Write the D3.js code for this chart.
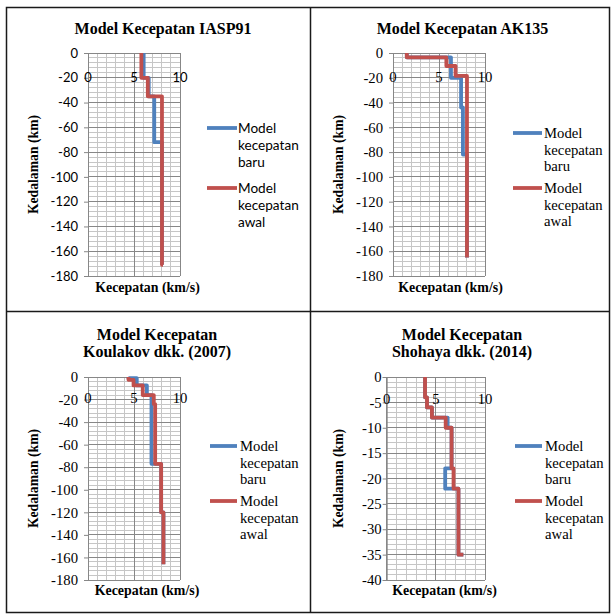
<!DOCTYPE html>
<html>
<head>
<meta charset="utf-8">
<script src="https://cdn.jsdelivr.net/npm/d3@7"></script>
<style>
  html, body { margin: 0; padding: 0; background: #fff; }
  svg { display: block; }
  .serif { font-family: "Times New Roman", "Liberation Serif", "DejaVu Serif", serif; }
  .sans { font-family: Lato, "Open Sans", sans-serif; }
</style>
</head>
<body>
<svg id="fig" width="611" height="614"></svg>
<script>
// Velocity models: [velocity (km/s), depth (km, negative downward)]
const iasp91Baru = [[6.05, 0], [6.05, -20], [6.6, -20], [6.6, -35], [7.2, -35], [7.2, -72], [8.04, -72], [8.04, -171]];
const iasp91Awal = [[5.8, 0], [5.8, -20], [6.5, -20], [6.5, -35], [8.04, -35], [8.04, -171], [8.15, -171]];

const ak135Baru = [[1.5, 0], [1.5, -3.5], [6.3, -3.5], [6.3, -20], [7.4, -20], [7.4, -44], [7.6, -44], [7.6, -82], [8.04, -82], [8.04, -165]];
const ak135Awal = [[1.5, 0], [1.5, -3.5], [5.8, -3.5], [5.8, -10.5], [6.8, -10.5], [6.8, -18.5], [8.04, -18.5], [8.04, -165]];

const koulakovBaru = [[4.4, 0], [4.4, -1], [5.3, -1], [5.3, -7.5], [6.4, -7.5], [6.4, -16], [6.9, -16], [6.9, -77], [7.95, -77], [7.95, -120], [8.2, -120], [8.2, -166]];
const koulakovAwal = [[4.4, 0], [4.4, -2.5], [4.95, -2.5], [4.95, -7.5], [5.95, -7.5], [5.95, -16], [7.15, -16], [7.15, -24], [7.3, -24], [7.3, -77], [7.95, -77], [7.95, -120], [8.2, -120], [8.2, -166]];

const shohayaBaru = [[3.9, 0], [3.9, -4], [4.1, -4], [4.1, -6], [4.6, -6], [4.6, -8], [6.2, -8], [6.2, -10], [6.6, -10], [6.6, -18], [5.95, -18], [5.95, -22], [7.3, -22], [7.3, -35], [7.8, -35]];
const shohayaAwal = [[3.9, 0], [3.9, -4], [4.1, -4], [4.1, -6], [4.6, -6], [4.6, -8], [6.0, -8], [6.0, -10], [6.6, -10], [6.6, -18], [6.8, -18], [6.8, -22], [7.3, -22], [7.3, -35], [7.8, -35]];

// Axis ticks
const xTicks = [0, 5, 10];
const yTicksDeep = [0, -20, -40, -60, -80, -100, -120, -140, -160, -180];
const yTicksShallow = [0, -5, -10, -15, -20, -25, -30, -35, -40];

const seriesNames = ["Model kecepatan baru", "Model kecepatan awal"];
const seriesColors = ["#4F81BD", "#C0504D"];

const svg = d3.select("#fig");

// Table frame
const frame = svg.append("g").attr("stroke", "#1a1a1a").attr("stroke-width", 1.5).attr("fill", "none");
frame.append("rect").attr("x", 6.5).attr("y", 7.5).attr("width", 603).attr("height", 605);
frame.append("line").attr("x1", 310.5).attr("x2", 310.5).attr("y1", 7.5).attr("y2", 612.5);
frame.append("line").attr("x1", 6.5).attr("x2", 609.5).attr("y1", 311.5).attr("y2", 311.5);

const panels = [
  { title: ["Model Kecepatan IASP91"], titleX: 163, titleY: 34,
    plot: { x0: 88, x1: 180, y0: 53, y1: 276 }, yDomain: [-180, 0], yTicks: yTicksDeep, yMinor: 4,
    tickPad: 6, xLabelY: 77, yTitleX: 33, xTitleX: 147.5, xTitleY: 292,
    font: "sans", tickSize: 13, legendSize: 13.6,
    legend: { x0: 207, x1: 237, tx: 238, rows: [128, 188], lh: 17 },
    data: [iasp91Baru, iasp91Awal] },
  { title: ["Model Kecepatan AK135"], titleX: 462.5, titleY: 34,
    plot: { x0: 393, x1: 485, y0: 53, y1: 276 }, yDomain: [-180, 0], yTicks: yTicksDeep, yMinor: 4,
    tickPad: 6, xLabelY: 77, yTitleX: 338, xTitleX: 450.5, xTitleY: 292,
    font: "serif", tickSize: 14.7, legendSize: 14.7,
    legend: { x0: 513, x1: 542, tx: 544, rows: [133, 188], lh: 16.5 },
    data: [ak135Baru, ak135Awal] },
  { title: ["Model Kecepatan", "Koulakov dkk. (2007)"], titleX: 157, titleY: 340,
    plot: { x0: 88, x1: 180, y0: 377, y1: 580 }, yDomain: [-180, 0], yTicks: yTicksDeep, yMinor: 4,
    tickPad: 6, xLabelY: 398, yTitleX: 33, xTitleX: 147, xTitleY: 595,
    font: "serif", tickSize: 14.7, legendSize: 14.7,
    legend: { x0: 210, x1: 237, tx: 240, rows: [446, 501], lh: 16.5 },
    data: [koulakovBaru, koulakovAwal] },
  { title: ["Model Kecepatan", "Shohaya dkk. (2014)"], titleX: 462, titleY: 340,
    plot: { x0: 386.7, x1: 485, y0: 377, y1: 580 }, yDomain: [-40, 0], yTicks: yTicksShallow, yMinor: 1,
    tickPad: 1, xLabelY: 398.5, yTitleX: 338, xTitleX: 444.5, xTitleY: 595,
    font: "serif", tickSize: 14.7, legendSize: 14.7,
    legend: { x0: 515, x1: 542, tx: 545, rows: [446, 501], lh: 16.5 },
    data: [shohayaBaru, shohayaAwal] }
];

panels.forEach(p => {
  const g = svg.append("g");
  const x = d3.scaleLinear().domain([0, 10]).range([p.plot.x0, p.plot.x1]);
  const y = d3.scaleLinear().domain(p.yDomain).range([p.plot.y1, p.plot.y0]);

  // Title
  const t = g.append("text")
    .attr("class", "serif")
    .attr("text-anchor", "middle")
    .style("font-weight", "bold").style("font-size", "16px")
    .attr("fill", "#000");
  p.title.forEach((line, i) => {
    t.append("tspan").attr("x", p.titleX).attr("y", p.titleY + i * 16.5).text(line);
  });

  // Minor gridlines
  const minorX = d3.range(0, 10.001, 1);
  const minorY = d3.range(p.yDomain[0], 0.001, p.yMinor);
  const grid = g.append("g").attr("shape-rendering", "crispEdges");
  grid.selectAll(".mx").data(minorX).join("line")
    .attr("x1", d => x(d)).attr("x2", d => x(d))
    .attr("y1", p.plot.y0).attr("y2", p.plot.y1)
    .attr("stroke", "#c6c6c6").attr("stroke-width", 1);
  grid.selectAll(".my").data(minorY).join("line")
    .attr("x1", p.plot.x0).attr("x2", p.plot.x1)
    .attr("y1", d => y(d)).attr("y2", d => y(d))
    .attr("stroke", "#c6c6c6").attr("stroke-width", 1);
  // Major gridlines
  grid.selectAll(".Mx").data(xTicks).join("line")
    .attr("x1", d => x(d)).attr("x2", d => x(d))
    .attr("y1", p.plot.y0).attr("y2", p.plot.y1)
    .attr("stroke", "#878787").attr("stroke-width", 1);
  grid.selectAll(".My").data(p.yTicks).join("line")
    .attr("x1", p.plot.x0).attr("x2", p.plot.x1)
    .attr("y1", d => y(d)).attr("y2", d => y(d))
    .attr("stroke", "#878787").attr("stroke-width", 1);

  // Vertical axis with outward ticks
  const yAxis = d3.axisLeft(y).tickValues(p.yTicks).tickSize(4).tickPadding(p.tickPad).tickFormat(d3.format("d"));
  const ya = g.append("g").attr("transform", `translate(${p.plot.x0},0)`).call(yAxis);
  ya.attr("font-family", null).attr("font-size", null);
  ya.select(".domain").attr("stroke", "#878787");
  ya.selectAll(".tick line").attr("stroke", "#878787");
  ya.selectAll(".tick text")
    .attr("class", p.font).style("font-size", p.tickSize + "px").attr("fill", "#000")
    .text(d => d === 0 ? "0" : "-" + Math.abs(d));

  // Horizontal axis labels (drawn inside the plot, below the zero line)
  g.append("g").selectAll("text").data(xTicks).join("text")
    .attr("class", p.font)
    .attr("x", d => x(d)).attr("y", p.xLabelY)
    .attr("text-anchor", "middle").attr("dominant-baseline", "central")
    .style("font-size", p.tickSize + "px").attr("fill", "#000")
    .text(d => d);

  // Axis titles
  g.append("text")
    .attr("class", "serif")
    .attr("transform", `translate(${p.yTitleX},${(p.plot.y0 + p.plot.y1) / 2}) rotate(-90)`)
    .attr("text-anchor", "middle").attr("dominant-baseline", "central")
    .style("font-weight", "bold").style("font-size", "13.7px")
    .text("Kedalaman (km)");
  g.append("text")
    .attr("class", "serif")
    .attr("x", p.xTitleX).attr("y", p.xTitleY)
    .attr("text-anchor", "middle")
    .style("font-weight", "bold").style("font-size", "13.9px")
    .text("Kecepatan (km/s)");

  // Velocity profiles
  const line = d3.line().x(d => x(d[0])).y(d => y(d[1]));
  p.data.forEach((series, i) => {
    g.append("path").datum(series)
      .attr("d", line)
      .attr("fill", "none")
      .attr("stroke", seriesColors[i])
      .attr("stroke-width", 3.8)
      .attr("stroke-linejoin", "round");
  });

  // Legend
  seriesNames.forEach((name, i) => {
    const ly = p.legend.rows[i];
    g.append("line")
      .attr("x1", p.legend.x0).attr("x2", p.legend.x1)
      .attr("y1", ly).attr("y2", ly)
      .attr("stroke", seriesColors[i]).attr("stroke-width", 3.8);
    const words = name.split(" ");
    const lt = g.append("text")
      .attr("class", p.font).style("font-size", p.legendSize + "px").attr("fill", "#000");
    words.forEach((w, j) => {
      lt.append("tspan").attr("x", p.legend.tx).attr("y", ly + 5 + j * p.legend.lh).text(w);
    });
  });
});
</script>
</body>
</html>
